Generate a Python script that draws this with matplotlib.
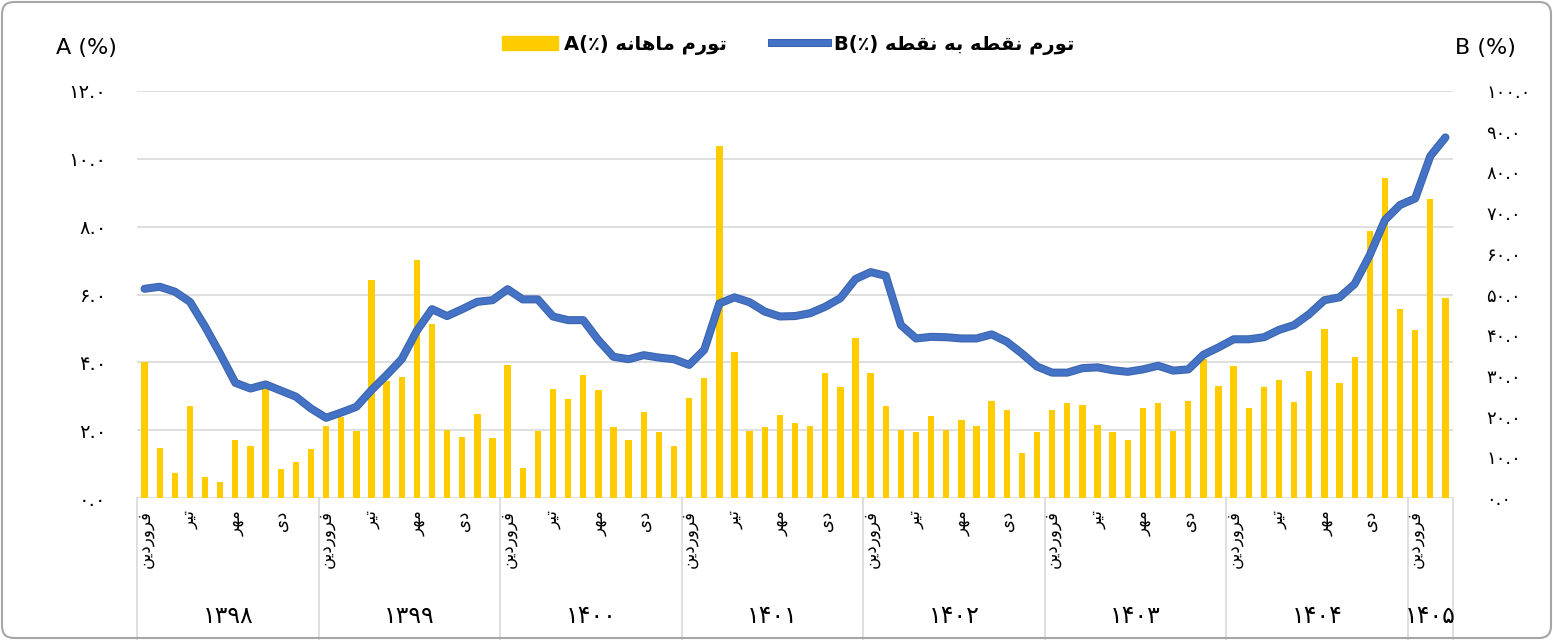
import numpy as np
import matplotlib
matplotlib.use('Agg')
import matplotlib.pyplot as plt
import matplotlib.patheffects as pe
from matplotlib.patches import FancyBboxPatch, Patch
from matplotlib.lines import Line2D

# data
years = ['1398', '1399', '1400', '1401', '1402', '1403', '1404', '1405']
month_names = ['فروردین', 'تیر', 'مهر', 'دی']
month_pos = [0, 3, 6, 9]

# monthly inflation A (%) - left axis
monthly_a = [4.0, 1.48, 0.75, 2.72, 0.63, 0.46, 1.72, 1.54, 3.21, 0.85, 1.07, 1.45,
             2.12, 2.38, 1.98, 6.42, 3.45, 3.57, 7.02, 5.14, 2.0, 1.8, 2.49, 1.78,
             3.92, 0.87, 1.98, 3.21, 2.92, 3.63, 3.19, 2.09, 1.71, 2.53, 1.96, 1.54,
             2.96, 3.54, 10.39, 4.31, 1.98, 2.09, 2.45, 2.22, 2.13, 3.70, 3.27, 4.71,
             3.68, 2.72, 2.0, 1.96, 2.43, 2.0, 2.30, 2.12, 2.86, 2.58, 1.34, 1.96,
             2.60, 2.79, 2.74, 2.14, 1.96, 1.70, 2.64, 2.79, 1.97, 2.86, 4.09, 3.30,
             3.90, 2.65, 3.28, 3.48, 2.83, 3.75, 4.99, 3.39, 4.17, 7.86, 9.43, 5.56,
             4.96, 8.82, 5.91]

# point to point inflation B (%) - right axis
p2p_b = [51.4, 51.9, 50.7, 48.2, 42.1, 35.4, 28.3, 26.9, 27.9, 26.4, 24.9, 22.0,
         19.7, 21.0, 22.4, 26.5, 30.2, 34.1, 41.1, 46.4, 44.7, 46.4, 48.2, 48.6,
         51.3, 48.8, 48.8, 44.6, 43.7, 43.7, 38.8, 34.7, 34.1, 35.1, 34.5, 34.1,
         32.7, 36.4, 47.8, 49.3, 48.1, 45.8, 44.6, 44.7, 45.4, 47.0, 49.1, 53.8,
         55.5, 54.6, 42.5, 39.2, 39.6, 39.5, 39.2, 39.2, 40.2, 38.4, 35.5, 32.3,
         30.8, 30.8, 31.9, 32.1, 31.4, 31.0, 31.6, 32.5, 31.3, 31.6, 35.2, 37.0,
         39.0, 39.0, 39.5, 41.3, 42.5, 45.2, 48.6, 49.3, 52.6, 59.7, 68.3, 72.0,
         73.6, 84.0, 88.6]

label_a = 'تورم ماهانه'
label_b = 'تورم نقطه به نقطه'

YELLOW = '#FFCC00'
BLUE = '#4472C4'

# --- minimal persian shaping (matplotlib has no bidi / joining) ---
FORMS = {  # isolated, final, initial, medial
    'ا': ('\uFE8D', '\uFE8E', None, None),
    'ب': ('\uFE8F', '\uFE90', '\uFE91', '\uFE92'),
    'ت': ('\uFE95', '\uFE96', '\uFE97', '\uFE98'),
    'د': ('\uFEA9', '\uFEAA', None, None),
    'ر': ('\uFEAD', '\uFEAE', None, None),
    'ط': ('\uFEC1', '\uFEC2', '\uFEC3', '\uFEC4'),
    'ف': ('\uFED1', '\uFED2', '\uFED3', '\uFED4'),
    'ق': ('\uFED5', '\uFED6', '\uFED7', '\uFED8'),
    'م': ('\uFEE1', '\uFEE2', '\uFEE3', '\uFEE4'),
    'ن': ('\uFEE5', '\uFEE6', '\uFEE7', '\uFEE8'),
    'ه': ('\uFEE9', '\uFEEA', '\uFEEB', '\uFEEC'),
    'و': ('\uFEED', '\uFEEE', None, None),
    'ی': ('\uFEEF', '\uFEF0', '\uFEF3', '\uFEF4'),
}


def shape(s):
    out = []
    for i, ch in enumerate(s):
        if ch not in FORMS:
            out.append(ch)
            continue
        prev = s[i - 1] if i > 0 else ''
        nxt = s[i + 1] if i + 1 < len(s) else ''
        jp = prev in FORMS and FORMS[prev][2] is not None
        jn = nxt in FORMS and FORMS[ch][2] is not None
        iso, fin, ini, med = FORMS[ch]
        if jp and jn:
            out.append(med)
        elif jp:
            out.append(fin)
        elif jn:
            out.append(ini)
        else:
            out.append(iso)
    return ''.join(reversed(out))


def fa(s):
    return s.translate(str.maketrans('0123456789', '۰۱۲۳۴۵۶۷۸۹'))


plt.rcParams['font.family'] = ['DejaVu Sans']

fig = plt.figure(figsize=(15.53, 6.4), dpi=100)
ax = fig.add_axes([137 / 1553, 1 - 498 / 640, (1453 - 137) / 1553, (498 - 91) / 640])
ax2 = ax.twinx()

x = np.arange(len(monthly_a))
ax.bar(x, monthly_a, width=0.42, color=YELLOW, zorder=2)
ax2.plot(x, p2p_b, color=BLUE, lw=4.3, solid_capstyle='round', solid_joinstyle='round',
         path_effects=[pe.Stroke(linewidth=5.8, foreground='#3B64AD'), pe.Normal()])

ax.set_xlim(-0.5, len(monthly_a) - 0.5)
ax.set_ylim(0, 12)
ax2.set_ylim(0, 100)
ax.set_yticks(np.arange(0, 13, 2))
ax.set_yticklabels([fa('%.1f' % v) for v in np.arange(0, 13, 2)])
ax2.set_yticks(np.arange(0, 101, 10))
ax2.set_yticklabels([fa('%.1f' % v) for v in np.arange(0, 101, 10)])
ax.grid(axis='y', color='#D9D9D9', lw=1.2, zorder=0)
ax.set_axisbelow(True)
ax.set_xticks([])
for a in (ax, ax2):
    for sp in a.spines.values():
        sp.set_visible(False)
ax.tick_params(axis='y', length=0, pad=22, labelsize=14)
ax2.tick_params(axis='y', length=0, pad=24, labelsize=13)

# category axis below the plot
tr = ax.get_xaxis_transform()
n_years = int(np.ceil(len(monthly_a) / 12))
bounds = [-0.5 + 12 * k for k in range(n_years)] + [len(monthly_a) - 0.5]
for b in bounds:
    ax.plot([b, b], [0, -0.36], transform=tr, color='#D9D9D9', lw=1.2, clip_on=False)
for k, yr in enumerate(years):
    start = 12 * k
    for mp, mn in zip(month_pos, month_names):
        if start + mp < len(monthly_a):
            ax.text(start + mp, -0.03, shape(mn), transform=tr, rotation=90,
                    ha='center', va='top', fontsize=12)
    end = min(start + 12, len(monthly_a))
    ax.text((start + end - 1) / 2, -0.29, fa(yr), transform=tr, ha='center',
            va='center', fontsize=17)

fig.text(56 / 1553, 1 - 48 / 640, 'A (%)', fontsize=16, va='center', ha='left')
fig.text(1455 / 1553, 1 - 48 / 640, 'B (%)', fontsize=16, va='center', ha='left')

handles = [Patch(color=YELLOW), Line2D([], [], color=BLUE, lw=4.3,
           path_effects=[pe.Stroke(linewidth=5.8, foreground='#3B64AD'), pe.Normal()])]
labels = ['A(٪) ' + shape(label_a), 'B(٪) ' + shape(label_b)]
fig.legend(handles, labels, loc='center', bbox_to_anchor=(788 / 1553, 1 - 45 / 640),
           ncol=2, frameon=False, handlelength=2.9, handletextpad=0.3,
           columnspacing=2.3, prop={'size': 14, 'weight': 'bold'})

fig.patches.append(FancyBboxPatch((0.02, 0.02), 15.49, 6.36,
                                  boxstyle='round,pad=0,rounding_size=0.12',
                                  transform=fig.dpi_scale_trans, fill=False,
                                  ec='#A6A6A6', lw=1.5))

fig.savefig('out.png', dpi=100)
